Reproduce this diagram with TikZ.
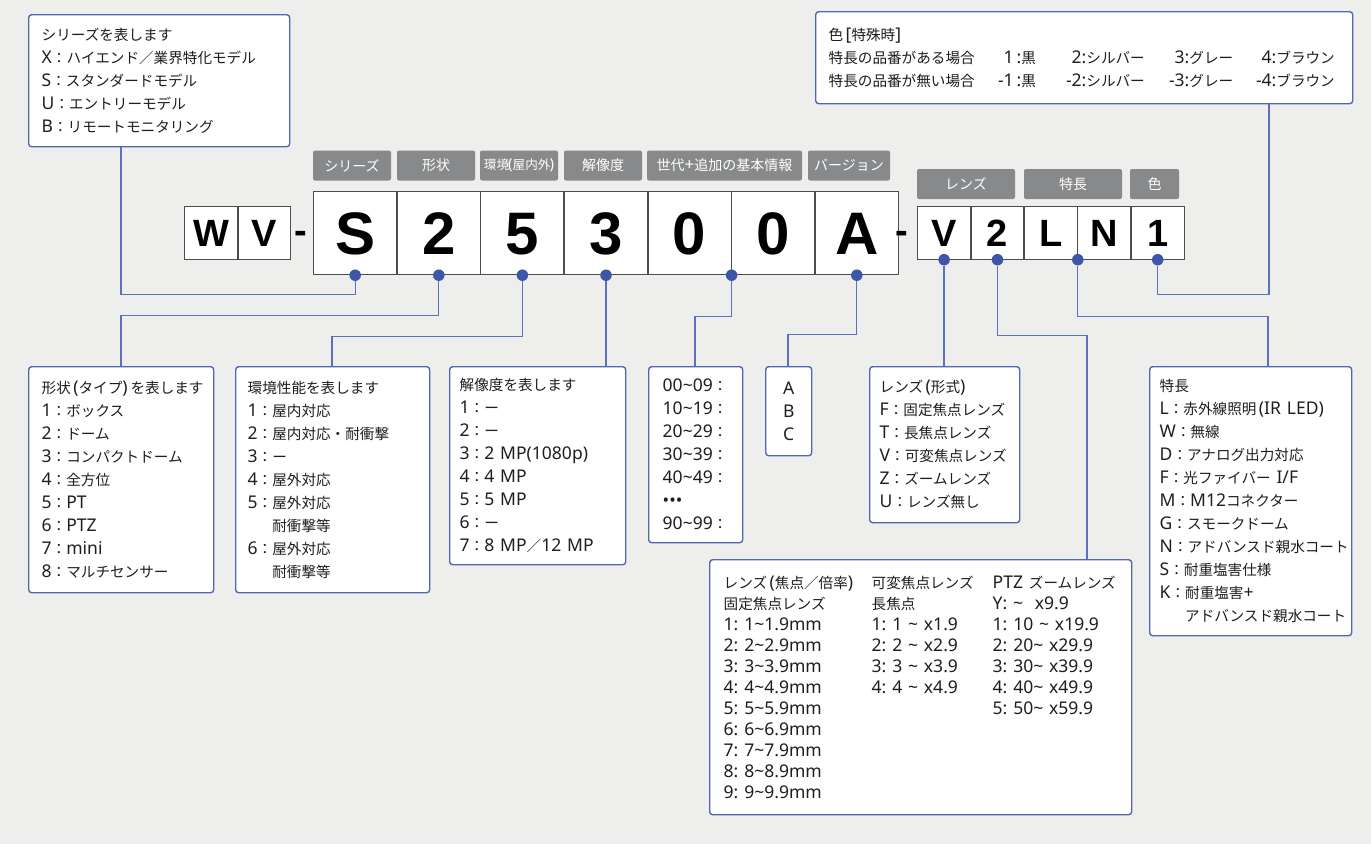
\documentclass[tikz,border=0pt]{standalone}
\usepackage{fontspec}
\setmainfont{Noto Sans}[Scale=1.2]
\newfontfamily\jpfont{Noto Sans CJK JP}
\newfontfamily\codefont{Liberation Sans}[UprightFont={* Bold}]
\usepackage{tikz}
\usetikzlibrary{matrix, positioning, calc}

% Japanese characters switch to the CJK font by themselves
\XeTeXinterchartokenstate=1
\chardef\JPclass=7
\newcount\jpc
\newcommand\setjp[2]{\jpc=#1 \loop \XeTeXcharclass\jpc=\JPclass \ifnum\jpc<#2 \advance\jpc by 1 \repeat}
\setjp{"3000}{"30FF}
\setjp{"4E00}{"9FFF}
\setjp{"FF00}{"FFEF}
\XeTeXinterchartoks 0 \JPclass = {\jpfont}
\XeTeXinterchartoks 4095 \JPclass = {\jpfont}
\XeTeXinterchartoks \JPclass 0 = {\rmfamily}
\XeTeXinterchartoks 4095 0 = {\rmfamily}

\newcommand\tild{\textasciitilde}
\newcommand\cnum[3]{\makebox[0pt][r]{#1}\makebox[#2][l]{#3}}
\newcommand\codeB{\XeTeXinterchartokenstate=0 \codefont\fontsize{60}{60}\selectfont}
\newcommand\codeS{\XeTeXinterchartokenstate=0 \codefont\fontsize{38}{38}\selectfont}
\newcommand\tabfont{\fontsize{14}{16}\selectfont}
\newcommand\boxfont{\frenchspacing\fontsize{14.6}{23}\selectfont}

\definecolor{bgcol}{RGB}{238,238,236}
\definecolor{frame}{RGB}{83,102,178}
\definecolor{wirecol}{RGB}{92,112,188}
\definecolor{dotcol}{RGB}{62,86,168}
\definecolor{tabcol}{RGB}{136,137,139}
\definecolor{inkcol}{RGB}{30,30,30}

\tikzset{
codes/.style={
  matrix of nodes,
  inner sep=0pt,
  row sep=-\pgflinewidth,
  column sep=-\pgflinewidth,
  nodes={draw=black!70, fill=white, line width=1pt, inner sep=0pt, text depth=0pt}
},
bigcodes/.style={codes, nodes={minimum width=83pt, minimum height=83pt, text height=43pt, font=\codeB}},
smallcodes/.style={codes, nodes={minimum width=52.8pt, minimum height=52.5pt, text height=27.5pt, font=\codeS}},
tab/.style={fill=tabcol, rounded corners=2pt, text=white, font=\tabfont, minimum height=30pt, inner sep=0pt},
infobox/.style={draw=frame, line width=1.4pt, fill=white, rounded corners=3pt, anchor=north west,
  align=left, text=inkcol, font=\boxfont, inner ysep=0pt},
wire/.style={draw=wirecol, line width=1.3pt},
dot/.style={circle, fill=dotcol, inner sep=0pt, minimum size=11.5pt},
}

\begin{document}
\begin{tikzpicture}[x=1pt, y=-1pt]
\fill[bgcol] (0,0) rectangle (1371,844);
\useasboundingbox (0,0) rectangle (1371,844);

% explanation boxes
\node[infobox, text width=235pt, inner xsep=13pt, minimum height=132pt] (series) at (28,14) {%
  シリーズを表します\\X：ハイエンド／業界特化モデル\\S：スタンダードモデル\\U：エントリーモデル\\B：リモートモニタリング};
\node[infobox, text width=511pt, inner xsep=13pt, minimum height=92pt] (color) at (815,11) {%
  色\,[特殊時]\\
  \makebox[185pt][l]{特長の品番がある場合}\cnum{1}{68pt}{\,:黒}\cnum{2}{103pt}{:シルバー}\cnum{3}{87pt}{:グレー}\cnum{4}{60pt}{:ブラウン}\\
  \makebox[185pt][l]{特長の品番が無い場合}\cnum{-1}{68pt}{\,:黒}\cnum{-2}{103pt}{:シルバー}\cnum{-3}{87pt}{:グレー}\cnum{-4}{60pt}{:ブラウン}};
\node[infobox, text width=159pt, inner xsep=13pt, minimum height=226pt] (shape) at (28,366) {%
  形状\,(タイプ)\,を表します\\1：ボックス\\2：ドーム\\3：コンパクトドーム\\4：全方位\\5：PT\\6：PTZ\\7：mini\\8：マルチセンサー};
\node[infobox, text width=170pt, inner xsep=12pt, minimum height=226pt] (env) at (235,366) {%
  環境性能を表します\\1：屋内対応\\2：屋内対応・耐衝撃\\3：ー\\4：屋外対応\\5：屋外対応\\\phantom{5：}耐衝撃等\\6：屋外対応\\\phantom{6：}耐衝撃等};
\node[infobox, text width=156pt, inner xsep=10pt, minimum height=198pt] (res) at (449,366) {%
  解像度を表します\\1：ー\\2：ー\\3：2 MP(1080p)\\4：4 MP\\5：5 MP\\6：ー\\7：8 MP／12 MP};
\node[infobox, text width=66pt, inner xsep=14pt, minimum height=176pt] (gen) at (648,366) {%
  00\tild09：\\10\tild19：\\20\tild29：\\30\tild39：\\40\tild49：\\•••\\90\tild99：};
\node[infobox, text width=46pt, inner xsep=0pt, minimum height=89pt, align=center] (ver) at (765,366) {A\\B\\C};
\node[infobox, text width=130pt, inner xsep=10pt, minimum height=156pt] (lens) at (869,366) {%
  レンズ\,(形式)\\F：固定焦点レンズ\\T：長焦点レンズ\\V：可変焦点レンズ\\Z：ズームレンズ\\U：レンズ無し};
\node[infobox, text width=182pt, inner xsep=10pt, minimum height=269pt] (feat) at (1149,366) {%
  特長\\L：赤外線照明\,(IR LED)\\W：無線\\D：アナログ出力対応\\F：光ファイバー I/F\\M：M12コネクター\\G：スモークドーム\\N：アドバンスド親水コート\\S：耐重塩害仕様\\K：耐重塩害+\\\phantom{K：}アドバンスド親水コート};
\node[infobox, text width=394pt, inner xsep=14pt, minimum height=255pt, font=\frenchspacing\fontsize{14.6}{21}\selectfont] (focal) at (709,559) {%
  \parbox[t]{148pt}{\raggedright レンズ\,(焦点／倍率)\\固定焦点レンズ\\1: 1\tild1.9mm\\2: 2\tild2.9mm\\3: 3\tild3.9mm\\4: 4\tild4.9mm\\5: 5\tild5.9mm\\6: 6\tild6.9mm\\7: 7\tild7.9mm\\8: 8\tild8.9mm\\9: 9\tild9.9mm}%
  \parbox[t]{121pt}{\raggedright 可変焦点レンズ\\長焦点\\1: 1 \tild{} x1.9\\2: 2 \tild{} x2.9\\3: 3 \tild{} x3.9\\4: 4 \tild{} x4.9}%
  \parbox[t]{130pt}{\raggedright PTZ ズームレンズ\\Y: \tild{}\ \ x9.9\\1: 10 \tild{} x19.9\\2: 20\tild{} x29.9\\3: 30\tild{} x39.9\\4: 40\tild{} x49.9\\5: 50\tild{} x59.9}};

% model number
\matrix(pre)[smallcodes, anchor=north west] at (184,206) { W & V \\ };
\node[font=\codeS] (dash1) at (300.5,237) {-};
\matrix(main)[bigcodes, anchor=north west] at (313,191) { S & 2 & 5 & 3 & 0 & 0 & A \\ };
\node[font=\codeS] (dash2) at (902,237) {-};
\matrix(opt)[smallcodes, anchor=north west] at (917,206) { V & 2 & L & N & 1 \\ };

% tabs
\node[tab, minimum width=78pt] (tSer) at (352,165.5) {シリーズ};
\node[tab, minimum width=78pt] (tShp) at (436,165.5) {形状};
\node[tab, minimum width=78pt, font=\fontsize{12.6}{16}\selectfont] (tEnv) at (519,165.5) {環境\kern-1pt(屋内外\kern-1pt)};
\node[tab, minimum width=78pt] (tRes) at (603,165.5) {解像度};
\node[tab, minimum width=155pt] (tGen) at (724.5,165.5) {世代+追加の基本情報};
\node[tab, minimum width=82pt] (tVer) at (849,165.5) {バージョン};
\node[tab, minimum width=98pt] (tLens) at (966,184) {レンズ};
\node[tab, minimum width=98pt] (tFeat) at (1073,184) {特長};
\node[tab, minimum width=49pt] (tCol) at (1154.5,184) {色};

% dots
\node[dot] (dS) at (main-1-1.south) {};
\node[dot] (d2) at (main-1-2.south) {};
\node[dot] (d5) at (main-1-3.south) {};
\node[dot] (d3) at (main-1-4.south) {};
\node[dot] (dG) at (main-1-5.south east) {};
\node[dot] (dA) at (main-1-7.south) {};
\node[dot] (dV) at (opt-1-1.south) {};
\node[dot] (dF) at (opt-1-2.south) {};
\node[dot] (dL) at (opt-1-3.south east) {};
\node[dot] (dC) at (opt-1-5.south) {};

% connectors
\draw[wire] (dS) -- ++(0,19) -| ([xshift=93pt]series.south west);
\draw[wire] (d2) -- ++(0,40) -| ([xshift=93pt]shape.north west);
\draw[wire] (d5) -- ++(0,61) -| ([xshift=97pt]env.north west);
\draw[wire] (d3) -- (d3 |- res.north);
\draw[wire] (dG) -- ++(0,41) -| ([xshift=47pt]gen.north west);
\draw[wire] (dA) -- ++(0,59) -| ([xshift=23pt]ver.north west);
\draw[wire] (dV) -- (dV |- lens.north);
\draw[wire] (dF) -- ++(0,76) -| ([xshift=378pt]focal.north west);
\draw[wire] (dL) -- ++(0,57) -| ([xshift=119pt]feat.north west);
\draw[wire] (dC) -- ++(0,35) -| ([xshift=454pt]color.south west);
\end{tikzpicture}
\end{document}
